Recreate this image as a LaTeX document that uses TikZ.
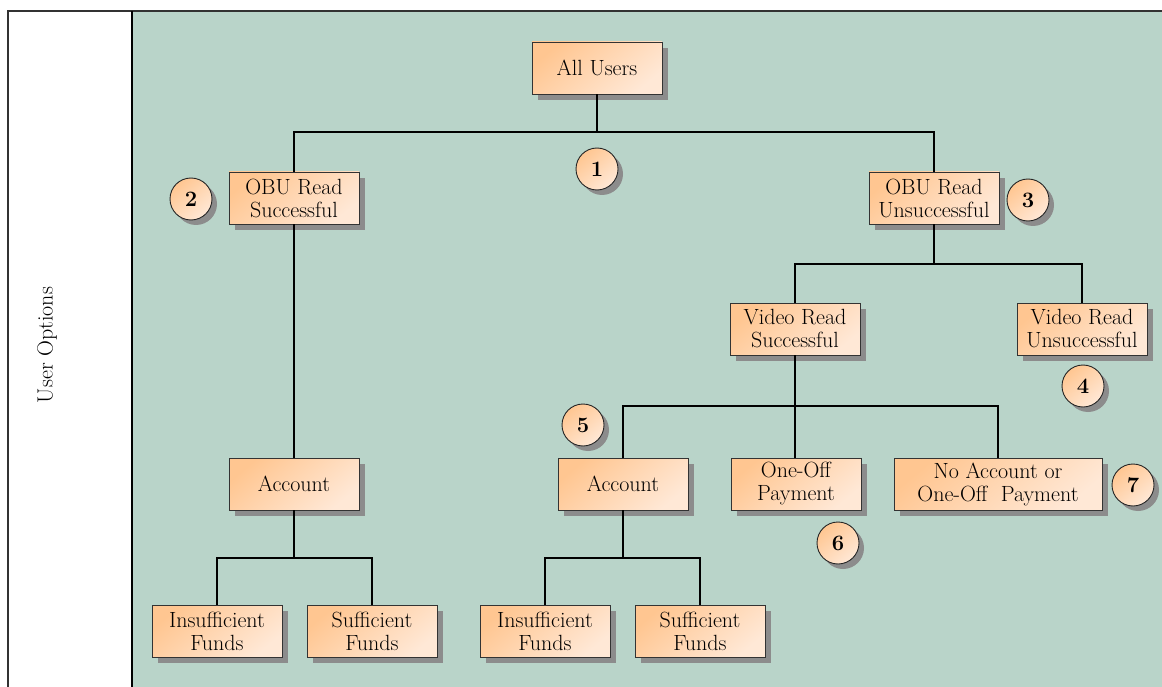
\documentclass[tikz,border=0pt]{standalone}
\usepackage{fontspec}
\setmainfont{Latin Modern Roman}
\usetikzlibrary{shadows}
\definecolor{panelgreen}{RGB}{185,212,201}
\definecolor{frameline}{RGB}{50,50,50}
\definecolor{peachdark}{RGB}{255,198,145}
\definecolor{peachlight}{RGB}{255,232,214}
\definecolor{shadowgray}{RGB}{140,140,140}
\begin{document}
\begin{tikzpicture}[x=1pt,y=-1pt,
  every node/.style={font=\fontsize{22}{23}\selectfont},
  box/.style={draw=black!80, line width=0.9pt, align=center,
    minimum width=130pt, minimum height=52pt, inner sep=2pt,
    top color=peachdark, bottom color=peachlight, shading angle=40,
    drop shadow={shadow xshift=6pt, shadow yshift=-6pt, fill=shadowgray, opacity=1}},
  badge/.style={circle, draw=black!85, line width=0.9pt, minimum size=42pt, inner sep=0pt,
    font=\fontsize{22}{24}\selectfont\bfseries,
    top color=peachdark, bottom color=peachlight, shading angle=40,
    drop shadow={shadow xshift=5pt, shadow yshift=-5pt, fill=shadowgray, opacity=1}},
  link/.style={draw=black, line width=1.2pt}]
\useasboundingbox (0,0) rectangle (1162,687);
% panels
\fill[white] (0,0) rectangle (1162,687);
\fill[panelgreen] (132,11) rectangle (1162,687);
\draw[frameline, line width=1.4pt] (8,690) -- (8,11) -- (1165,11);
\draw[black, line width=1.2pt] (132,11) -- (132,690);
\node[rotate=90] (lane) at (47,345) {User Options};

% decision boxes
\node[box] (all)   at (597,68)  {All Users};
\node[box] (obus)  at (294,198) {OBU Read\\Successful};
\node[box] (obuu)  at (934,198) {OBU Read\\Unsuccessful};
\node[box] (vrs)   at (795,329) {Video Read\\Successful};
\node[box] (vru)   at (1082,329) {Video Read\\Unsuccessful};
\node[box] (accL)  at (294,484) {Account};
\node[box] (accR)  at (623,484) {Account};
\node[box] (oop)   at (796,484) {One-Off\\Payment};
\node[box, minimum width=208pt] (noacc) at (998,484) {No Account or\\One-Off~ Payment};
\node[box] (insL)  at (217,631) {Insufficient\\Funds};
\node[box] (sufL)  at (372,631) {Sufficient\\Funds};
\node[box] (insR)  at (545,631) {Insufficient\\Funds};
\node[box] (sufR)  at (700,631) {Sufficient\\Funds};

% junction points of the tree
\coordinate (j1) at (597,132);
\coordinate (j2) at (934,264);
\coordinate (j3) at (795,406);
\coordinate (j4) at (294,558);
\coordinate (j5) at (623,558);

% connectors
\draw[link] (all.south) -- (j1);
\draw[link] (obus.north) |- (j1) -| (obuu.north);
\draw[link] (obus.south) -- (accL.north);
\draw[link] (obuu.south) -- (j2);
\draw[link] (vrs.north) |- (j2) -| (vru.north);
\draw[link] (vrs.south) -- (j3);
\draw[link] (accR.north) |- (j3) -| (noacc.north);
\draw[link] (j3) -- (j3 |- oop.north);
\draw[link] (accL.south) -- (j4);
\draw[link] (insL.north) |- (j4) -| (sufL.north);
\draw[link] (accR.south) -- (j5);
\draw[link] (insR.north) |- (j5) -| (sufR.north);

% numbered markers
\node[badge] (n1) at (597,169) {1};
\node[badge] (n2) at (191,199) {2};
\node[badge] (n3) at (1028,200) {3};
\node[badge] (n4) at (1083,386) {4};
\node[badge] (n5) at (583,425) {5};
\node[badge] (n6) at (838,543) {6};
\node[badge] (n7) at (1133,485) {7};
\end{tikzpicture}
\end{document}
